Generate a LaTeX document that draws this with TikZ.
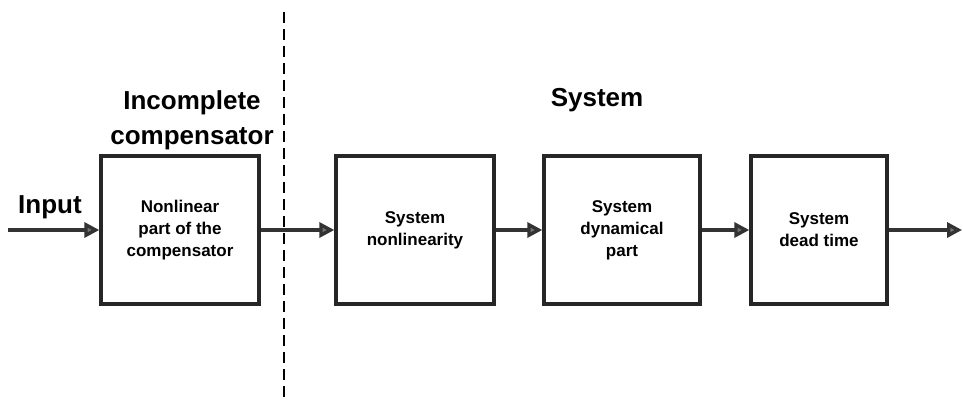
\documentclass[tikz,border=0pt]{standalone}
\usepackage{fontspec}
\setmainfont{Liberation Sans}
\usetikzlibrary{arrows.meta}
\begin{document}
\begin{tikzpicture}[x=1pt,y=-1pt,
  blockbox/.style={draw=black!85, line width=3.4pt, minimum width=#1, minimum height=148pt, align=center, inner sep=0pt, font=\bfseries\fontsize{17}{22}\selectfont},
  conn/.style={draw=black!80, line width=3.4pt, -{Triangle[width=15pt,length=15pt,fill=black!55]}},
  title/.style={align=center, font=\bfseries\fontsize{26}{35}\selectfont, inner sep=0pt}
]
\useasboundingbox (0,0) rectangle (963,401);
\node[blockbox=158pt] (b1) at (180,230) {Nonlinear\\part of the\\compensator};
\node[blockbox=158pt] (b2) at (415,230) {System\\nonlinearity};
\node[blockbox=156pt] (b3) at (622,230) {System\\dynamical\\part};
\node[blockbox=136pt] (b4) at (819,230) {System\\dead time};
\coordinate (in) at (8,230);
\coordinate (out) at (962,230);
\node[font=\bfseries\fontsize{26}{30}\selectfont, inner sep=0pt] (lin) at (50,207) {Input};
\node[title] (t1) at (192,120) {Incomplete\\compensator};
\node[title] (t2) at (597,100) {System};
\coordinate (d1) at (284,12);
\coordinate (d2) at (284,401);
\draw[line width=2.2pt, dash pattern=on 11pt off 6pt] (d1) -- (d2);
\draw[conn] (in) -- (b1.west);
\draw[conn] (b1.east) -- (b2.west);
\draw[conn] (b2.east) -- (b3.west);
\draw[conn] (b3.east) -- (b4.west);
\draw[conn] (b4.east) -- (out);
\end{tikzpicture}
\end{document}
